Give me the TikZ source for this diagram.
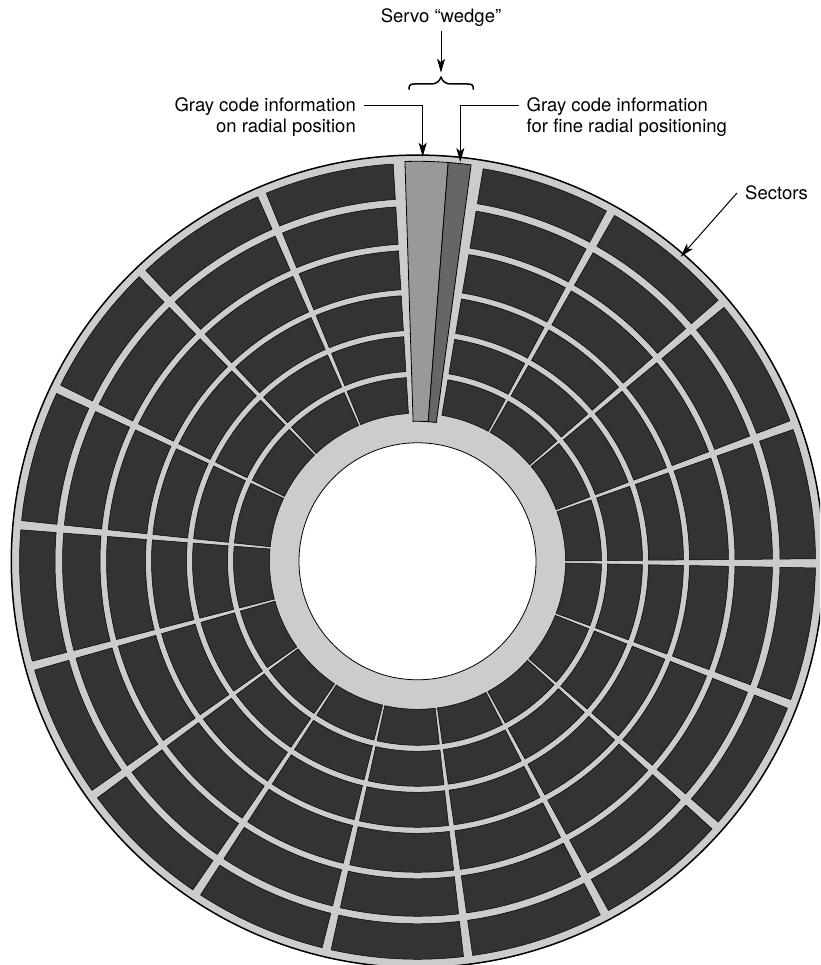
\documentclass[tikz,border=0pt]{standalone}
\usepackage{fontspec}
\setmainfont{TeX Gyre Heros}
\usetikzlibrary{arrows.meta}
\newcommand{\sectorcell}[7]{%
  \pgfmathsetmacro\cSa{90-#1-#3*delta(#5)}%
  \pgfmathsetmacro\cEa{90-#2+#4*delta(#5)}%
  \pgfmathsetmacro\cSb{90-#1-#3*delta(#6)}%
  \pgfmathsetmacro\cEb{90-#2+#4*delta(#6)}%
  \draw[#7] (\cSa:#5) arc[start angle=\cSa,end angle=\cEa,radius=#5]
    -- (\cEb:#6) arc[start angle=\cEb,end angle=\cSb,radius=#6] -- cycle;%
}
\tikzset{
  darkcell/.style={fill=cellgray,draw=black,line width=0.5pt,line join=miter},
  wedgeA/.style={fill=wedgemid,draw=black,line width=0.8pt,line join=miter},
  wedgeB/.style={fill=wedgedark,draw=black,line width=0.8pt,line join=miter},
  label/.style={font=\fontsize{18.5}{21}\selectfont,inner xsep=8pt,inner ysep=4pt},
  conn/.style={line width=1pt,-{Stealth[length=14pt,width=8pt,inset=3.5pt]}},
}
\definecolor{diskgray}{HTML}{CCCCCC}
\definecolor{cellgray}{HTML}{333333}
\definecolor{wedgemid}{HTML}{999999}
\definecolor{wedgedark}{HTML}{666666}
\begin{document}
\begin{tikzpicture}[x=1pt,y=1pt,declare function={delta(\r)=deg((2.2+0.028*(\r-148))/2/\r);}]
\useasboundingbox (0,0) rectangle (820,965);
\begin{scope}
\clip (0,0) rectangle (820,965);
\begin{scope}[shift={(417.5,403.7)}]
  \fill[diskgray] (0,0) circle[radius=406.5];
  \draw[black,line width=1.5pt] (0,0) circle[radius=406.2];
  \draw[black,fill=white,line width=0.8pt] (0,0) circle[radius=118.5];
  \foreach \tA/\tB/\fA/\fB in {9.5/29/0/1,29/49.7/1/1,49.7/70/1/1,70/90.3/1/1,90.3/111/1/1,
      111/131.6/1/1,131.6/152/1/1,152/172.7/1/1,172.7/193.2/1/1,193.2/213.7/1/1,
      213.7/234.2/1/1,234.2/254.8/1/1,254.8/275.2/1/1,275.2/295.6/1/1,295.6/316.3/1/1,
      316.3/337/1/1,337/356.5/1/0}{
    \foreach \rA/\rB in {148/184,190/225,231/266,272/311,317.5/355,362.5/398}{
      \sectorcell{\tA}{\tB}{\fA}{\fB}{\rA}{\rB}{darkcell}
    }
  }
  \sectorcell{-1.8}{4.4}{0}{0}{140}{400}{wedgeA}
  \sectorcell{4.4}{7.7}{0}{0}{140}{400}{wedgeB}
\end{scope}
\end{scope}
% labels
\node[label] (servo) at (441,947.5) {Servo “wedge”};
\node[label,align=right,anchor=east] (lcode) at (364,848) {Gray code information\\on radial position};
\node[label,align=left,anchor=west] (rcode) at (518.5,848) {Gray code information\\for fine radial positioning};
\node[label,anchor=west] (sectors) at (737,772) {Sectors};
% tips
\coordinate (servotip) at (441,892.3);
\coordinate (brL) at (409,875.7);
\coordinate (brR) at (473.3,875.7);
\coordinate (ltip) at (422.7,808.3);
\coordinate (rtip) at (460.3,803);
\coordinate (stip) at (680.7,708.3);
% brace
\draw[line width=1.5pt,line cap=round] (brL) .. controls (409,880) and (410,881) .. (415,881)
  -- (431,881) .. controls (436,881) and (439,883) .. (441,887.7)
  .. controls (443,883) and (446,881) .. (451,881)
  -- (467.3,881) .. controls (472.3,881) and (473.3,880) .. (brR);
% connectors
\draw[conn] (servo.south) -- (servotip);
\draw[conn] ([yshift=11pt]lcode.east) -| (ltip);
\draw[conn] ([yshift=11pt]rcode.west) -| (rtip);
\draw[conn] (sectors.west) -- (stip);
\end{tikzpicture}
\end{document}
